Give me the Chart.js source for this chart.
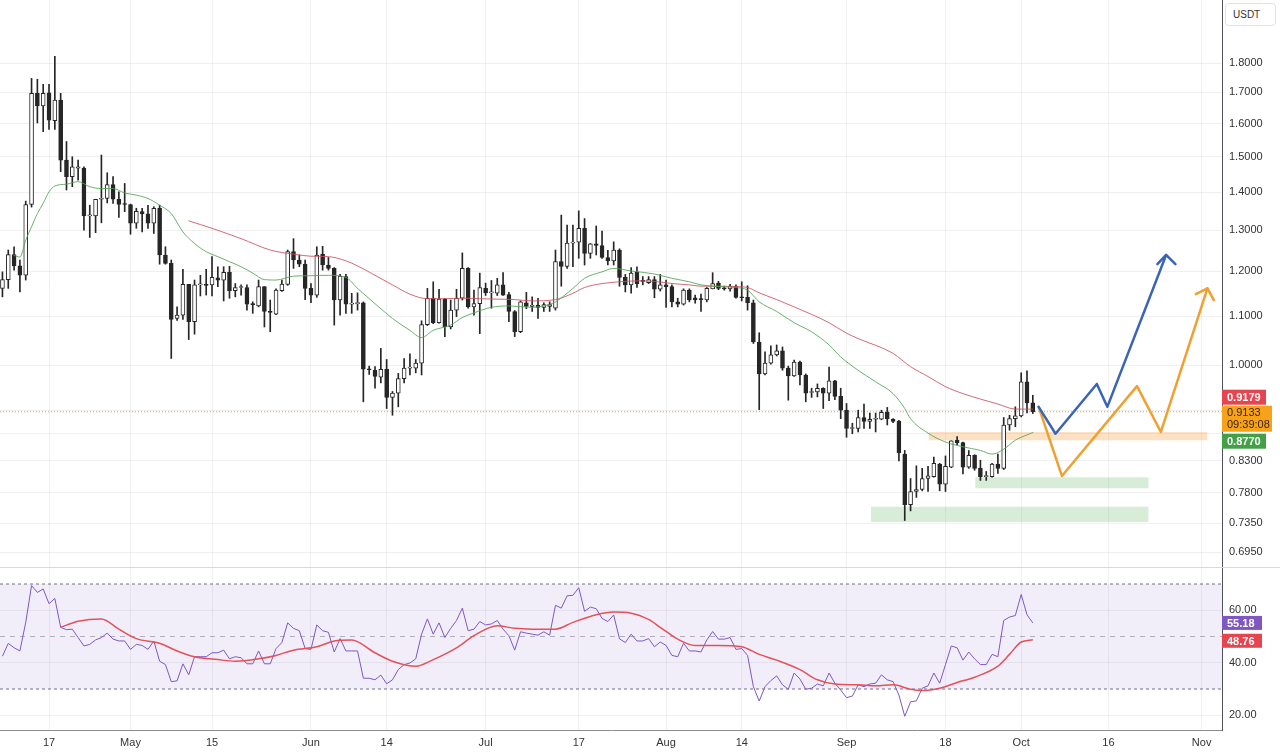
<!DOCTYPE html>
<html>
<head>
<meta charset="utf-8">
<script src="https://cdn.jsdelivr.net/npm/chart.js@4.4.0/dist/chart.umd.min.js"></script>
<style>
  html, body { margin: 0; padding: 0; background: #fff; }
  #wrap { position: relative; width: 1280px; height: 756px; overflow: hidden; }
  #price-box { position: absolute; left: 0; top: 0; width: 1280px; height: 567px; }
  #rsi-box { position: absolute; left: 0; top: 567px; width: 1280px; height: 188px; border-top: 1px solid #d9d9d9; }
  #unit { position: absolute; left: 1225px; top: 3px; width: 42px; height: 21px; border: 1px solid #e0e3eb; border-radius: 4px;
          font: 10px 'Liberation Sans', Arial, sans-serif; color: #333; line-height: 21px; padding-left: 7px; background: #fff; }
</style>
</head>
<body>
<div id="wrap">
  <div id="price-box"><canvas id="price-chart" width="1280" height="567"></canvas></div>
  <div id="rsi-box"><canvas id="rsi-chart" width="1280" height="188"></canvas></div>
  <div id="unit">USDT</div>
</div>
<script>
// daily candles, day 0 = 17 Apr, first candle is day -8
const firstDay = -8;
const opens = [
  1.161, 1.181, 1.240, 1.213, 1.191, 1.367, 1.697, 1.656, 1.699, 1.609,
  1.675, 1.490, 1.443, 1.467, 1.467, 1.337, 1.337, 1.381, 1.383, 1.421,
  1.381, 1.368, 1.367, 1.318, 1.348, 1.342, 1.318, 1.357, 1.239, 1.219,
  1.095, 1.102, 1.170, 1.088, 1.169, 1.169, 1.169, 1.185, 1.180, 1.198,
  1.156, 1.163, 1.163, 1.126, 1.122, 1.165, 1.110, 1.104, 1.156, 1.170,
  1.247, 1.227, 1.217, 1.161, 1.146, 1.241, 1.215, 1.207, 1.135, 1.188,
  1.126, 1.127, 1.129, 0.992, 0.990, 0.977, 0.992, 0.939, 0.947, 0.974,
  0.994, 0.994, 1.004, 1.082, 1.139, 1.086, 1.137, 1.077, 1.113, 1.139,
  1.207, 1.120, 1.127, 1.161, 1.151, 1.150, 1.169, 1.147, 1.110, 1.067,
  1.129, 1.121, 1.124, 1.119, 1.121, 1.117, 1.223, 1.212, 1.268, 1.270,
  1.305, 1.243, 1.266, 1.262, 1.233, 1.225, 1.251, 1.186, 1.169, 1.199,
  1.178, 1.174, 1.181, 1.159, 1.169, 1.165, 1.131, 1.126, 1.157, 1.140,
  1.137, 1.135, 1.160, 1.173, 1.161, 1.160, 1.165, 1.141, 1.141, 1.129,
  1.046, 0.983, 1.004, 1.020, 1.028, 0.994, 0.979, 1.006, 0.981, 0.948,
  0.949, 0.956, 0.947, 0.970, 0.941, 0.916, 0.884, 0.884, 0.903, 0.896,
  0.900, 0.900, 0.912, 0.900, 0.897, 0.841, 0.762, 0.782, 0.785, 0.802,
  0.805, 0.825, 0.793, 0.820, 0.864, 0.860, 0.820, 0.839, 0.818, 0.805,
  0.805, 0.825, 0.818, 0.890, 0.901, 0.906, 0.968, 0.929
];
const highs = [
  1.199, 1.251, 1.259, 1.227, 1.376, 1.747, 1.744, 1.727, 1.727, 1.824,
  1.697, 1.545, 1.500, 1.490, 1.471, 1.365, 1.381, 1.505, 1.454, 1.443,
  1.401, 1.424, 1.368, 1.357, 1.357, 1.365, 1.361, 1.365, 1.259, 1.227,
  1.120, 1.205, 1.170, 1.180, 1.191, 1.205, 1.235, 1.211, 1.211, 1.212,
  1.172, 1.169, 1.169, 1.131, 1.180, 1.165, 1.135, 1.160, 1.180, 1.251,
  1.279, 1.239, 1.227, 1.172, 1.259, 1.260, 1.233, 1.209, 1.193, 1.193,
  1.150, 1.151, 1.131, 0.998, 0.997, 1.033, 1.011, 0.950, 0.984, 1.013,
  1.022, 1.011, 1.090, 1.161, 1.176, 1.159, 1.139, 1.135, 1.159, 1.244,
  1.209, 1.157, 1.196, 1.173, 1.179, 1.184, 1.197, 1.152, 1.112, 1.133,
  1.152, 1.142, 1.139, 1.129, 1.131, 1.251, 1.339, 1.313, 1.313, 1.350,
  1.330, 1.267, 1.311, 1.298, 1.250, 1.271, 1.254, 1.193, 1.209, 1.211,
  1.188, 1.188, 1.188, 1.193, 1.180, 1.169, 1.139, 1.160, 1.160, 1.146,
  1.148, 1.163, 1.197, 1.177, 1.166, 1.170, 1.169, 1.176, 1.167, 1.135,
  1.065, 1.026, 1.038, 1.040, 1.036, 0.998, 1.010, 1.008, 0.983, 0.956,
  0.964, 0.957, 0.996, 0.971, 0.956, 0.928, 0.893, 0.916, 0.927, 0.911,
  0.911, 0.916, 0.921, 0.901, 0.898, 0.847, 0.802, 0.822, 0.818, 0.821,
  0.836, 0.826, 0.838, 0.863, 0.870, 0.861, 0.847, 0.840, 0.831, 0.813,
  0.826, 0.841, 0.903, 0.907, 0.922, 0.985, 0.989, 0.943
];
const lows = [
  1.142, 1.161, 1.203, 1.153, 1.180, 1.360, 1.602, 1.575, 1.582, 1.582,
  1.457, 1.406, 1.415, 1.433, 1.300, 1.282, 1.294, 1.319, 1.371, 1.370,
  1.333, 1.348, 1.290, 1.305, 1.296, 1.305, 1.292, 1.217, 1.217, 1.013,
  1.091, 1.093, 1.051, 1.062, 1.144, 1.146, 1.144, 1.165, 1.133, 1.139,
  1.142, 1.146, 1.113, 1.106, 1.120, 1.077, 1.067, 1.103, 1.154, 1.168,
  1.207, 1.211, 1.136, 1.129, 1.141, 1.203, 1.203, 1.081, 1.102, 1.106,
  1.106, 1.113, 0.931, 0.982, 0.956, 0.966, 0.919, 0.907, 0.922, 0.966,
  0.981, 0.985, 0.981, 1.080, 1.084, 1.085, 1.057, 1.073, 1.099, 1.135,
  1.117, 1.102, 1.063, 1.145, 1.117, 1.145, 1.145, 1.088, 1.057, 1.065,
  1.116, 1.110, 1.095, 1.110, 1.110, 1.113, 1.166, 1.207, 1.211, 1.231,
  1.215, 1.231, 1.239, 1.231, 1.215, 1.215, 1.166, 1.153, 1.150, 1.163,
  1.169, 1.172, 1.140, 1.155, 1.119, 1.120, 1.120, 1.124, 1.131, 1.128,
  1.110, 1.131, 1.160, 1.158, 1.157, 1.155, 1.139, 1.133, 1.113, 1.043,
  0.917, 0.981, 1.002, 1.018, 0.990, 0.934, 0.978, 0.962, 0.931, 0.939,
  0.940, 0.919, 0.933, 0.935, 0.901, 0.869, 0.875, 0.878, 0.884, 0.884,
  0.878, 0.899, 0.890, 0.894, 0.830, 0.739, 0.753, 0.773, 0.783, 0.782,
  0.804, 0.783, 0.782, 0.819, 0.856, 0.809, 0.818, 0.815, 0.799, 0.799,
  0.804, 0.810, 0.816, 0.881, 0.887, 0.904, 0.911, 0.910
];
const closes = [
  1.181, 1.240, 1.213, 1.191, 1.367, 1.697, 1.656, 1.697, 1.611, 1.675,
  1.490, 1.443, 1.471, 1.471, 1.337, 1.339, 1.381, 1.383, 1.421, 1.381,
  1.367, 1.367, 1.318, 1.349, 1.342, 1.318, 1.357, 1.239, 1.219, 1.093,
  1.102, 1.170, 1.088, 1.169, 1.170, 1.168, 1.186, 1.180, 1.198, 1.156,
  1.163, 1.165, 1.126, 1.125, 1.165, 1.110, 1.108, 1.157, 1.171, 1.247,
  1.227, 1.217, 1.161, 1.146, 1.239, 1.215, 1.207, 1.135, 1.189, 1.126,
  1.127, 1.129, 0.992, 0.991, 0.978, 0.992, 0.939, 0.947, 0.974, 0.994,
  0.996, 1.004, 1.082, 1.139, 1.086, 1.137, 1.077, 1.113, 1.139, 1.207,
  1.120, 1.127, 1.163, 1.151, 1.152, 1.169, 1.146, 1.110, 1.067, 1.131,
  1.121, 1.124, 1.119, 1.125, 1.125, 1.223, 1.212, 1.268, 1.270, 1.305,
  1.243, 1.266, 1.262, 1.233, 1.225, 1.251, 1.186, 1.169, 1.196, 1.172,
  1.177, 1.181, 1.159, 1.169, 1.165, 1.131, 1.126, 1.157, 1.135, 1.135,
  1.136, 1.161, 1.172, 1.161, 1.160, 1.166, 1.141, 1.140, 1.129, 1.046,
  0.983, 1.004, 1.020, 1.028, 0.994, 0.979, 1.006, 0.981, 0.947, 0.949,
  0.956, 0.947, 0.970, 0.941, 0.916, 0.884, 0.885, 0.903, 0.896, 0.900,
  0.901, 0.912, 0.901, 0.896, 0.843, 0.762, 0.782, 0.785, 0.802, 0.806,
  0.826, 0.793, 0.821, 0.863, 0.860, 0.820, 0.839, 0.818, 0.805, 0.806,
  0.825, 0.818, 0.890, 0.901, 0.906, 0.968, 0.929, 0.9133
];

// moving averages (green = fast, red = slow), read at points along the lines
const fastMaDays = [-6, -5, -4, -3, -2, -1, 0, 1, 3, 5, 7, 9, 11, 13, 15, 17, 19, 21, 23, 25, 27, 29, 31, 33, 35, 37, 39,
  42, 45, 48, 51, 53, 56, 59, 62, 64, 66, 69, 71, 73, 76, 79, 83, 85, 87, 90, 92, 95, 97, 100, 104, 107, 110, 112, 115, 118, 120,
  122, 125, 128, 131, 134, 136, 139, 142, 145, 147, 148, 151, 154, 157, 160, 162, 164, 166, 168, 169];
const fastMaValues = [1.238, 1.234, 1.275, 1.309, 1.343, 1.370, 1.401, 1.417, 1.422, 1.429, 1.415, 1.410, 1.410, 1.398, 1.392, 1.383, 1.365, 1.343,
  1.296, 1.267, 1.247, 1.235, 1.223, 1.211, 1.196, 1.181, 1.180, 1.189, 1.190, 1.191, 1.186, 1.161, 1.127, 1.095, 1.070, 1.055, 1.070,
  1.081, 1.097, 1.107, 1.119, 1.122, 1.119, 1.122, 1.131, 1.161, 1.184, 1.199, 1.207, 1.201, 1.194, 1.184, 1.176, 1.169, 1.165, 1.163, 1.157,
  1.131, 1.110, 1.086, 1.067, 1.040, 1.016, 0.990, 0.968, 0.946, 0.919, 0.901, 0.876, 0.861, 0.853, 0.847, 0.841, 0.849, 0.864, 0.873, 0.8770];
const slowMaDays = [24, 28, 33, 38, 42, 45, 48, 51, 53, 56, 59, 62, 65, 68, 71, 74, 77, 80, 83, 87, 90, 92, 95, 98, 101, 104, 107, 110, 112, 115,
  118, 120, 122, 125, 128, 134, 137, 139, 145, 148, 151, 154, 157, 160, 163, 166, 169];
const slowMaValues = [1.324, 1.305, 1.279, 1.251, 1.241, 1.236, 1.235, 1.225, 1.213, 1.191, 1.169, 1.148, 1.138, 1.138, 1.139, 1.138, 1.137, 1.136,
  1.133, 1.136, 1.150, 1.163, 1.172, 1.176, 1.178, 1.177, 1.172, 1.169, 1.166, 1.166, 1.165, 1.163, 1.151, 1.136, 1.120, 1.086, 1.064, 1.053,
  1.023, 0.997, 0.978, 0.959, 0.946, 0.936, 0.927, 0.918, 0.9179];

// RSI, one value per candle, and its average
const rsiValues = [
  42.5, 47.4, 45.7, 44.5, 55.4, 69.4, 66.8, 68.1, 62.5, 64.5,
  53.5, 52.6, 52.8, 49.6, 46.4, 47.0, 48.7, 49.6, 51.3, 49.0,
  48.3, 48.3, 45.1, 47.0, 46.6, 45.1, 48.3, 40.6, 39.3, 32.8,
  33.1, 39.6, 35.4, 42.3, 42.3, 42.3, 43.8, 43.8, 44.8, 41.5,
  42.3, 41.9, 39.6, 39.6, 44.5, 39.6, 39.6, 45.4, 47.7, 55.2,
  53.1, 52.2, 45.4, 45.1, 54.4, 52.2, 51.6, 44.1, 49.2, 44.5,
  44.5, 44.5, 34.1, 34.1, 33.5, 35.3, 32.0, 33.5, 37.4, 39.3,
  39.9, 41.5, 50.9, 56.7, 50.9, 55.2, 49.6, 53.1, 56.1, 60.8,
  52.2, 52.8, 55.7, 54.4, 54.8, 56.1, 52.8, 50.3, 44.8, 51.8,
  51.3, 50.9, 50.5, 51.8, 50.5, 61.9, 60.8, 65.5, 65.7, 68.6,
  59.6, 61.2, 60.6, 56.9, 55.7, 58.2, 49.1, 47.7, 50.9, 48.3,
  48.3, 49.2, 46.1, 47.9, 46.6, 42.8, 42.3, 47.4, 44.5, 44.5,
  44.1, 48.7, 51.9, 49.0, 49.0, 49.6, 45.1, 45.4, 42.8, 30.9,
  25.4, 30.9, 33.2, 35.0, 31.6, 29.9, 36.1, 33.8, 29.9, 30.3,
  31.9, 31.2, 36.1, 32.2, 29.6, 26.7, 27.3, 31.6, 30.9, 31.9,
  32.2, 35.4, 33.5, 32.8, 27.7, 19.6, 25.1, 25.5, 30.3, 31.2,
  36.1, 32.2, 39.3, 46.4, 45.7, 41.0, 44.1, 41.5, 39.3, 39.3,
  43.2, 42.3, 56.1, 57.4, 58.0, 66.0, 58.3, 55.18
];
const rsiMaDays = [2, 5, 9, 12, 15, 19, 22, 25, 29, 32, 36, 39, 42, 46, 49, 52, 56, 59, 63, 66, 70, 73, 77, 80, 83, 87, 90, 94, 97, 100,
  103, 105, 108, 111, 115, 119, 122, 125, 129, 132, 135, 139, 142, 145, 148, 150, 153, 156, 159, 163, 165, 167, 169];
const rsiMaValues = [53.5, 55.8, 56.7, 52.8, 49.2, 47.4, 44.5, 42.3, 41.2, 40.6, 41.5, 42.8, 44.8, 46.1, 48.3, 48.7, 43.8, 40.6, 38.7, 41.2,
  45.7, 50.3, 54.1, 53.1, 52.8, 52.8, 55.4, 58.3, 59.3, 58.9, 56.5, 53.5, 49.0, 46.6, 46.6, 46.1, 43.2, 41.0, 37.4, 33.5,
  31.9, 31.6, 31.2, 31.6, 29.9, 29.4, 30.3, 32.5, 34.5, 38.7, 43.2, 47.9, 48.76];
const rsiLevels = [70, 50, 30];

// hand-drawn projections and zones
const blueDays = [170.0, 172.9, 180.0, 181.8, 191.9];
const blueValues = [0.922, 0.875, 0.964, 0.922, 1.239];
const blueArrowDays = [190.4, 191.9, 193.5];
const blueArrowValues = [1.217, 1.239, 1.217];
const orangeDays = [170.0, 174.0, 186.9, 191.0, 199.0];
const orangeValues = [0.922, 0.806, 0.960, 0.878, 1.161];
const orangeArrowDays = [197.0, 199.0, 200.1];
const orangeArrowValues = [1.148, 1.161, 1.135];
const zoneStarts = [151.1, 159.1, 141.2];
const zoneEnds = [199.0, 188.9, 188.9];
const zoneTops = [0.878, 0.804, 0.759];
const zoneBottoms = [0.864, 0.787, 0.737];

// axes
const tickDays = [0, 14, 28, 45, 58, 75, 91, 106, 119, 137, 154, 167, 182, 198];
const tickLabels = ['17', 'May', '15', 'Jun', '14', 'Jul', '17', 'Aug', '14', 'Sep', '18', 'Oct', '16', 'Nov'];
const priceTicks = [1.8, 1.7, 1.6, 1.5, 1.4, 1.3, 1.2, 1.1, 1.0, 0.915, 0.875, 0.83, 0.78, 0.735, 0.695];
const priceTickLabels = ['1.8000', '1.7000', '1.6000', '1.5000', '1.4000', '1.3000', '1.2000', '1.1000', '1.0000', '', '',
  '0.8300', '0.7800', '0.7350', '0.6950'];
const rsiTicks = [20, 40, 60];
const timeLeft = '09:39:08';

const xMin = -8.42, xMax = 201.5;
const priceMin = 0.6751, priceMax = 2.035;
const rsiMin = 14.38, rsiMax = 76.1;

const gridColor = 'rgba(42, 46, 57, 0.07)';
const textColor = '#333';
const fontFamily = "'Liberation Sans', Arial, sans-serif";
const candleColor = '#262626';

const toPoints = (xs, ys) => xs.map((x, i) => ({ x: x, y: ys[i] }));
const candleDays = opens.map((o, i) => firstDay + i);
const lastClose = closes[closes.length - 1];

function dayAxis(showLabels) {
    return {
        type: 'linear',
        min: xMin,
        max: xMax,
        offset: false,
        afterBuildTicks: s => { s.ticks = tickDays.map(v => ({ value: v })); },
        afterFit: s => { s.height = showLabels ? 26 : 0; s.paddingLeft = 0; s.paddingRight = 0; },
        grid: { color: gridColor, drawTicks: false, offset: false },
        border: { display: showLabels, color: '#8a8d96' },
        ticks: {
            display: showLabels, autoSkip: false, maxRotation: 0, padding: 6,
            color: textColor, font: { family: fontFamily, size: 11 },
            callback: (v, i) => tickLabels[i]
        }
    };
}

function tag(ctx, x, top, w, h, color) {
    ctx.fillStyle = color;
    ctx.fillRect(x, top, w, h);
}

const priceTags = {
    id: 'priceTags',
    afterDraw(chart) {
        const { ctx, chartArea, scales } = chart;
        const x = chartArea.right;
        const py = scales.y.getPixelForValue(lastClose);
        ctx.save();
        ctx.textBaseline = 'middle';
        ctx.textAlign = 'left';
        // current price with countdown; the two averages are pushed above and below it
        tag(ctx, x, py - 6, 50, 26, '#f7a21b');
        ctx.fillStyle = '#3d2600';
        ctx.font = '11px ' + fontFamily;
        ctx.fillText(lastClose.toFixed(4), x + 5, py + 1);
        ctx.fillText(timeLeft, x + 5, py + 13);

        ctx.font = 'bold 11px ' + fontFamily;
        tag(ctx, x, py - 22, 44, 15, '#e5454f');
        ctx.fillStyle = '#fff';
        ctx.fillText(slowMaValues[slowMaValues.length - 1].toFixed(4), x + 5, py - 14);

        tag(ctx, x, py + 22, 44, 15, '#43a047');
        ctx.fillStyle = '#fff';
        ctx.fillText(fastMaValues[fastMaValues.length - 1].toFixed(4), x + 5, py + 30);
        ctx.restore();
    }
};

const rsiTags = {
    id: 'rsiTags',
    afterDraw(chart) {
        const { ctx, chartArea, scales } = chart;
        const x = chartArea.right;
        ctx.save();
        ctx.textBaseline = 'middle';
        ctx.font = 'bold 11px ' + fontFamily;
        const rsiLast = rsiValues[rsiValues.length - 1];
        const maLast = rsiMaValues[rsiMaValues.length - 1];
        let y = scales.y.getPixelForValue(rsiLast);
        tag(ctx, x, y - 7, 40, 14, '#7e57c2');
        ctx.fillStyle = '#fff';
        ctx.fillText(rsiLast.toFixed(2), x + 5, y + 1);
        y = scales.y.getPixelForValue(maLast);
        tag(ctx, x, y - 6, 40, 14, '#e5454f');
        ctx.fillStyle = '#fff';
        ctx.fillText(maLast.toFixed(2), x + 5, y + 2);
        ctx.restore();
    }
};

const zoneColors = ['rgba(246, 170, 85, 0.35)', 'rgba(110, 190, 110, 0.27)', 'rgba(110, 190, 110, 0.27)'];
const zoneSets = zoneStarts.map((s, i) => ({
    type: 'line',
    data: [{ x: s, y: zoneTops[i] }, { x: zoneEnds[i], y: zoneTops[i] }],
    fill: { value: zoneBottoms[i] },
    backgroundColor: zoneColors[i],
    borderColor: 'rgba(0,0,0,0)',
    borderWidth: 0,
    pointRadius: 0,
    order: 10
}));

const lineSet = (points, color, width, order) => ({
    type: 'line', data: points, borderColor: color, borderWidth: width, pointRadius: 0,
    tension: 0, fill: false, borderJoinStyle: 'round', borderCapStyle: 'round', order: order
});

new Chart(document.getElementById('price-chart'), {
    type: 'bar',
    data: {
        datasets: [
            ...zoneSets,
            {
                type: 'line',
                data: [{ x: xMin, y: lastClose }, { x: xMax, y: lastClose }],
                borderColor: '#f7a21b', borderWidth: 1, borderDash: [1, 2], pointRadius: 0, order: 9
            },
            {
                type: 'bar',
                data: candleDays.map((d, i) => ({ x: d, y: [lows[i], highs[i]] })),
                backgroundColor: candleColor, barThickness: 1, grouped: false, order: 6
            },
            {
                type: 'bar',
                data: candleDays.map((d, i) => ({ x: d, y: [opens[i], closes[i]] })),
                backgroundColor: closes.map((c, i) => c >= opens[i] ? '#ffffff' : candleColor),
                borderColor: candleColor, borderWidth: 1, borderSkipped: false,
                barThickness: 4, minBarLength: 1, grouped: false, order: 5
            },
            Object.assign(lineSet(toPoints(fastMaDays, fastMaValues), 'rgba(80, 165, 85, 0.85)', 1, 3), { cubicInterpolationMode: 'monotone' }),
            Object.assign(lineSet(toPoints(slowMaDays, slowMaValues), 'rgba(205, 80, 95, 0.85)', 1, 3), { cubicInterpolationMode: 'monotone' }),
            lineSet(toPoints(blueDays, blueValues), '#3a64b8', 2.5, 1),
            lineSet(toPoints(blueArrowDays, blueArrowValues), '#3a64b8', 2.5, 1),
            lineSet(toPoints(orangeDays, orangeValues), '#f0a030', 2.5, 1),
            lineSet(toPoints(orangeArrowDays, orangeArrowValues), '#f0a030', 2.5, 1)
        ]
    },
    options: {
        responsive: false,
        animation: false,
        events: [],
        layout: { padding: 0 },
        plugins: { legend: { display: false }, tooltip: { enabled: false } },
        scales: {
            x: dayAxis(false),
            y: {
                type: 'logarithmic',
                position: 'right',
                min: priceMin,
                max: priceMax,
                bounds: 'data',
                afterBuildTicks: s => { s.ticks = priceTicks.map(v => ({ value: v })); },
                afterFit: s => { s.width = 58; s.paddingTop = 0; s.paddingBottom = 0; },
                grid: { color: gridColor, drawTicks: false },
                border: { display: true, color: '#50535e' },
                ticks: {
                    autoSkip: false, padding: 7, color: textColor,
                    font: { family: fontFamily, size: 11 },
                    callback: (v, i) => priceTickLabels[i]
                }
            }
        }
    },
    plugins: [priceTags]
});

const levelSet = (value, color, dash) => ({
    data: [{ x: xMin, y: value }, { x: xMax, y: value }],
    borderColor: color, borderWidth: 1, borderDash: dash, pointRadius: 0, fill: false, order: 5
});

new Chart(document.getElementById('rsi-chart'), {
    type: 'line',
    data: {
        datasets: [
            Object.assign(levelSet(rsiLevels[0], '#6f7280', [3, 3]), {
                fill: { value: rsiLevels[2] }, backgroundColor: 'rgba(126, 87, 194, 0.1)'
            }),
            levelSet(rsiLevels[1], 'rgba(120, 123, 134, 0.55)', [5, 5]),
            levelSet(rsiLevels[2], '#6f7280', [3, 3]),
            {
                data: toPoints(candleDays, rsiValues),
                borderColor: '#7e57c2', borderWidth: 1, pointRadius: 0, tension: 0, fill: false, order: 2
            },
            {
                data: toPoints(rsiMaDays, rsiMaValues),
                borderColor: '#e5505a', borderWidth: 1.5, pointRadius: 0, cubicInterpolationMode: 'monotone', fill: false, order: 1
            }
        ]
    },
    options: {
        responsive: false,
        animation: false,
        events: [],
        layout: { padding: 0 },
        plugins: { legend: { display: false }, tooltip: { enabled: false } },
        scales: {
            x: dayAxis(true),
            y: {
                type: 'linear',
                position: 'right',
                min: rsiMin,
                max: rsiMax,
                afterBuildTicks: s => { s.ticks = rsiTicks.map(v => ({ value: v })); },
                afterFit: s => { s.width = 58; s.paddingTop = 0; s.paddingBottom = 0; },
                grid: { color: gridColor, drawTicks: false },
                border: { display: true, color: '#50535e' },
                ticks: {
                    autoSkip: false, padding: 7, color: textColor,
                    font: { family: fontFamily, size: 11 },
                    callback: v => v.toFixed(2)
                }
            }
        }
    },
    plugins: [rsiTags]
});
</script>
</body>
</html>
